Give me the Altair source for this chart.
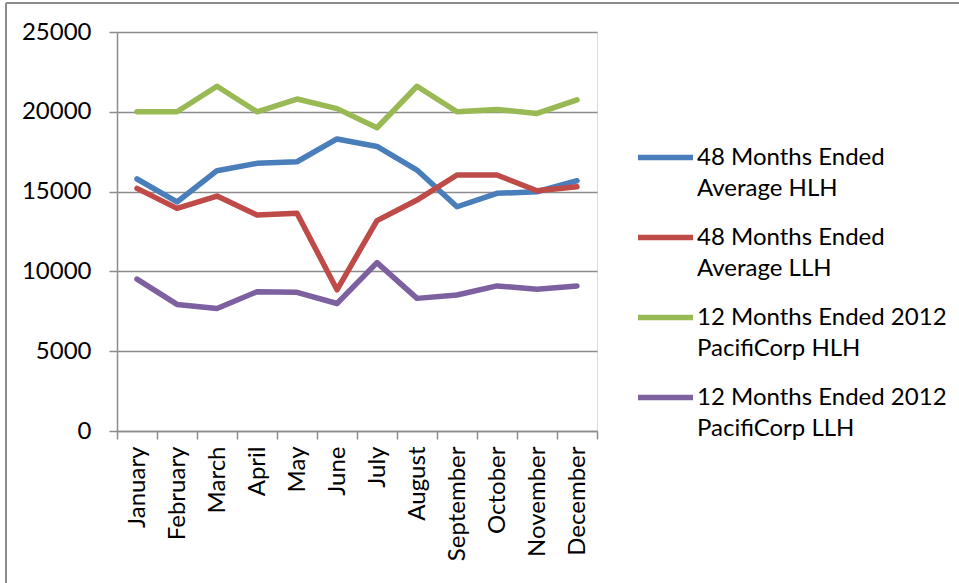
import altair as alt
import pandas as pd

months = ["January", "February", "March", "April", "May", "June", "July",
          "August", "September", "October", "November", "December"]
series = ["48 Months Ended\nAverage HLH", "48 Months Ended\nAverage LLH",
          "12 Months Ended 2012\nPacifiCorp HLH", "12 Months Ended 2012\nPacifiCorp LLH"]
hlh48 = [15790, 14350, 16310, 16770, 16870, 18300, 17830, 16350, 14050, 14890, 14990, 15680]
llh48 = [15200, 13950, 14720, 13530, 13640, 8850, 13180, 14470, 16040, 16040, 15050, 15300]
hlh12 = [20000, 20000, 21600, 20000, 20800, 20200, 19000, 21600, 20000, 20150, 19900, 20750]
llh12 = [9520, 7930, 7680, 8730, 8690, 7990, 10550, 8310, 8520, 9090, 8880, 9090]
colors = ["#4A7EBB", "#BE4B48", "#98B954", "#7D60A0"]

rows = []
for name, vals in zip(series, [hlh48, llh48, hlh12, llh12]):
    for m, v in zip(months, vals):
        rows.append({"month": m, "series": name, "value": v})
df = pd.DataFrame(rows)

FONT = "Lato"
FS = 24

lines = alt.Chart(df).mark_line(strokeWidth=5.5, strokeJoin="round", strokeCap="round").encode(
    x=alt.X("month:N", sort=months, title=None,
            scale=alt.Scale(type="band", paddingInner=0, paddingOuter=0),
            axis=alt.Axis(labelAngle=-90, labelAlign="right", labelBaseline="middle",
                          tickBand="extent", tickSize=8, tickColor="#8c8c8c", tickWidth=1.5,
                          domainColor="#8c8c8c", domainWidth=1.5, labelPadding=7,
                          labelFont=FONT, labelFontSize=FS, labelColor="#000000", grid=False)),
    y=alt.Y("value:Q", title=None,
            scale=alt.Scale(domain=[0, 25000], nice=False),
            axis=alt.Axis(values=[0, 5000, 10000, 15000, 20000, 25000], tickSize=8,
                          tickColor="#8c8c8c", tickWidth=1.5, domainColor="#8c8c8c",
                          domainWidth=1.5, grid=True, gridColor="#8c8c8c", gridWidth=1.5,
                          labelPadding=18, labelFont=FONT, labelFontSize=FS,
                          labelColor="#000000", format="d")),
    color=alt.Color("series:N", sort=series, title=None,
                    scale=alt.Scale(domain=series, range=colors),
                    legend=alt.Legend(orient="none", legendX=518, legendY=95,
                                      labelExpr="split(datum.label, '\\n')",
                                      labelFont=FONT, labelFontSize=FS, labelColor="#000000",
                                      labelLimit=400,
                                      symbolType="stroke", symbolSize=3025,
                                      symbolStrokeWidth=5.5, labelOffset=1,
                                      rowPadding=6, padding=0)),
)

frame_top = alt.Chart(pd.DataFrame({"k": [0]})).mark_rule(color="#8c8c8c", strokeWidth=2).encode(
    x=alt.value(-111), x2=alt.value(842), y=alt.value(-29))
frame_left = alt.Chart(pd.DataFrame({"k": [0]})).mark_rule(color="#8c8c8c", strokeWidth=2).encode(
    x=alt.value(-111), y=alt.value(-29), y2=alt.value(551))

chart = alt.layer(lines, frame_top, frame_left).properties(
    width=480, height=399,
    padding={"left": 117, "top": 32, "right": 362, "bottom": 152},
    autosize=alt.AutoSizeParams(type="none"),
).configure_view(stroke=None).configure(
    background="white",
    style={"guide-label": {"lineHeight": 31}},
)

chart.save("out.html", embed_options={"renderer": "svg", "actions": False})
